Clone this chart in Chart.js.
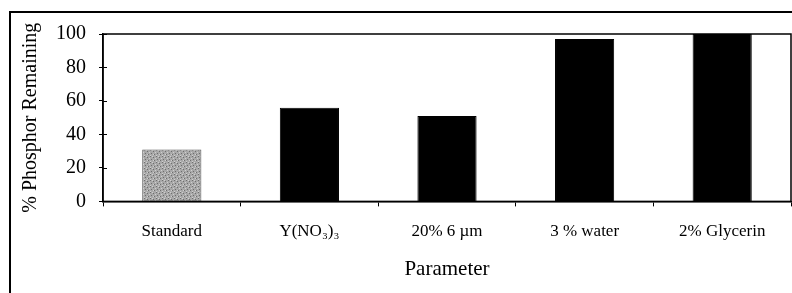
<!DOCTYPE html>
<html>
<head>
<meta charset="utf-8">
<script src="https://cdn.jsdelivr.net/npm/chart.js@4"></script>
<style>
  body { margin: 0; background: #fff; }
  #wrap { position: relative; width: 792px; height: 293px; }
  #frame { position: absolute; left: 9px; top: 11px; width: 790px; height: 300px; border-left: 2px solid #000; border-top: 2px solid #000; box-sizing: border-box; }
  canvas { position: absolute; left: 0; top: 0; }
</style>
</head>
<body>
<div id="wrap">
  <div id="frame"></div>
  <canvas id="myBarChart" width="792" height="293"></canvas>
</div>
<script>
var labels = ['Standard', 'Y(NO\u2083)\u2083', '20% 6 \u00b5m', '3 % water', '2% Glycerin'];
var values = [31, 56, 51, 97, 100];
var yTicks = [0, 20, 40, 60, 80, 100];

// stippled grey fill for the first bar
var pc = document.createElement('canvas');
pc.width = 6; pc.height = 6;
var p = pc.getContext('2d');
p.fillStyle = '#a8a8a8';
p.fillRect(0, 0, 6, 6);
p.fillStyle = '#6e6e6e';
p.fillRect(0, 0, 1, 1); p.fillRect(3, 1, 1, 1); p.fillRect(1, 3, 1, 1); p.fillRect(4, 4, 1, 1);
p.fillStyle = '#cfcfcf';
p.fillRect(2, 0, 1, 1); p.fillRect(5, 2, 1, 1); p.fillRect(0, 5, 1, 1); p.fillRect(3, 4, 1, 1);

var ctx = document.getElementById('myBarChart').getContext('2d');
var grey = ctx.createPattern(pc, 'repeat');

var frame = {
    id: 'frame',
    afterDraw: function (chart) {
        var a = chart.chartArea, c = chart.ctx, y = chart.scales.y;
        c.save();
        c.strokeStyle = '#000';
        c.lineWidth = 1.5;
        c.strokeRect(a.left, a.top, a.right - a.left, a.bottom - a.top);
        c.lineWidth = 1;
        c.beginPath();
        yTicks.forEach(function (v) {
            var py = Math.round(y.getPixelForValue(v)) + 0.5;
            c.moveTo(a.left, py); c.lineTo(a.left + 4, py);
        });
        c.stroke();
        c.restore();
    }
};

var chart = new Chart(ctx, {
    type: 'bar',
    data: {
        labels: labels,
        datasets: [{
            data: values,
            backgroundColor: [grey, '#000', '#000', '#000', '#000'],
            borderColor: ['#555', '#000', '#000', '#000', '#000'],
            borderWidth: 1,
            barPercentage: 0.43,
            categoryPercentage: 1
        }]
    },
    options: {
        responsive: false,
        animation: false,
        layout: { padding: { left: 19, right: 1, top: 34, bottom: 11 } },
        plugins: { legend: { display: false }, tooltip: { enabled: false } },
        scales: {
            x: {
                grid: { display: true, offset: true, drawOnChartArea: false, color: '#000', tickLength: 5 },
                border: { color: '#000', width: 1.5 },
                ticks: { color: '#000', font: { family: 'Liberation Serif', size: 17 }, padding: 15, maxRotation: 0 },
                title: { display: true, text: 'Parameter', color: '#000', font: { family: 'Liberation Serif', size: 21 }, padding: { top: 0, bottom: 0 } }
            },
            y: {
                min: 0, max: 100,
                afterBuildTicks: function (s) { s.ticks = yTicks.map(function (v) { return { value: v }; }); },
                grid: { display: true, drawOnChartArea: false, color: '#000', tickLength: 4 },
                border: { color: '#000', width: 1.5 },
                ticks: { color: '#000', font: { family: 'Liberation Serif', size: 20 }, padding: 13 },
                title: { display: true, text: '% Phosphor Remaining', color: '#000', font: { family: 'Liberation Serif', size: 20 }, padding: { top: 0, bottom: 0 } }
            }
        }
    },
    plugins: [frame]
});
</script>
</body>
</html>
